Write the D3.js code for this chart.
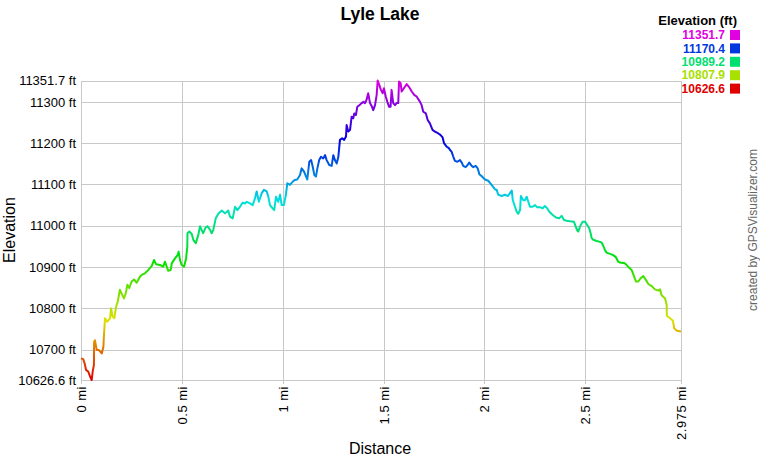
<!DOCTYPE html>
<html><head><meta charset="utf-8">
<script src="https://cdn.jsdelivr.net/npm/d3@7"></script>
<style>body{margin:0;background:#fff;}svg{display:block;font-family:"Liberation Sans",Arial,sans-serif;}</style>
</head><body><svg id="c" width="760" height="460"></svg>
<script>
const title = "Lyle Lake";
const distMi = [0,0.011,0.018,0.025,0.036,0.045,0.053,0.058,0.064,0.065,0.069,0.078,0.089,0.103,0.111,0.114,0.119,0.130,0.144,0.149,0.157,0.165,0.174,0.182,0.193,0.205,0.213,0.222,0.230,0.239,0.251,0.263,0.276,0.293,0.301,0.317,0.334,0.351,0.362,0.372,0.392,0.408,0.416,0.425,0.433,0.445,0.450,0.466,0.479,0.484,0.491,0.499,0.511,0.521,0.527,0.528,0.537,0.549,0.557,0.569,0.582,0.590,0.598,0.606,0.618,0.628,0.640,0.648,0.656,0.668,0.681,0.698,0.714,0.730,0.739,0.752,0.764,0.775,0.788,0.802,0.813,0.822,0.838,0.851,0.863,0.871,0.882,0.896,0.907,0.921,0.929,0.937,0.950,0.958,0.967,0.978,0.987,0.995,1.006,1.016,1.023,1.036,1.050,1.061,1.072,1.086,1.094,1.106,1.116,1.122,1.132,1.141,1.149,1.157,1.165,1.172,1.181,1.190,1.201,1.210,1.218,1.231,1.243,1.251,1.259,1.268,1.276,1.284,1.295,1.305,1.314,1.317,1.325,1.334,1.342,1.350,1.355,1.363,1.370,1.380,1.392,1.400,1.408,1.416,1.424,1.433,1.441,1.449,1.458,1.466,1.471,1.479,1.487,1.496,1.502,1.511,1.519,1.528,1.535,1.540,1.548,1.557,1.565,1.573,1.577,1.585,1.590,1.601,1.615,1.628,1.640,1.652,1.664,1.681,1.689,1.697,1.710,1.719,1.730,1.743,1.755,1.770,1.782,1.793,1.800,1.812,1.824,1.829,1.838,1.846,1.854,1.866,1.879,1.888,1.895,1.907,1.917,1.925,1.937,1.945,1.957,1.967,1.975,1.987,2.003,2.019,2.036,2.053,2.061,2.069,2.086,2.102,2.116,2.127,2.136,2.141,2.152,2.160,2.168,2.177,2.181,2.193,2.201,2.210,2.218,2.226,2.239,2.251,2.262,2.276,2.289,2.300,2.312,2.322,2.339,2.355,2.371,2.383,2.395,2.408,2.424,2.444,2.453,2.461,2.466,2.474,2.487,2.499,2.510,2.520,2.527,2.532,2.540,2.557,2.573,2.582,2.590,2.598,2.606,2.623,2.639,2.652,2.664,2.672,2.697,2.713,2.730,2.738,2.752,2.763,2.775,2.788,2.801,2.813,2.829,2.846,2.862,2.871,2.879,2.896,2.904,2.905,2.921,2.935,2.941,2.955,2.975];
const elevFt = [10679,10677,10667,10651,10647,10635,10626.6,10647,10663,10719,10723,10699,10699,10691,10707,10736,10776,10768,10776,10800,10780,10776,10804,10816,10845,10832,10824,10837,10857,10849,10865,10870,10862,10877,10881,10885,10893,10903,10917,10907,10905,10901,10913,10901,10891,10893,10909,10921,10929,10937,10917,10905,10901,10921,10949,10982,10986,10980,10966,10958,10978,10999,10990,10982,10996,10999,10990,10982,10990,11018,11029,11037,11030,11037,11022,11018,11046,11038,11046,11056,11054,11058,11054,11050,11067,11083,11058,11079,11087,11083,11070,11050,11042,11038,11070,11058,11075,11050,11050,11075,11103,11099,11107,11111,11112,11123,11139,11131,11119,11112,11155,11159,11143,11123,11119,11139,11159,11167,11163,11171,11159,11147,11145,11171,11159,11151,11167,11208,11212,11208,11216,11244,11228,11232,11264,11260,11272,11268,11288,11292,11297,11300,11297,11305,11321,11297,11290,11280,11292,11317,11351.7,11341,11329,11321,11333,11313,11300,11288,11288,11329,11297,11292,11297,11297,11349,11345,11325,11333,11343,11335,11325,11317,11313,11300,11292,11276,11272,11256,11248,11232,11228,11224,11220,11214,11200,11192,11188,11184,11179,11167,11157,11155,11159,11153,11145,11142,11147,11153,11145,11142,11145,11139,11125,11120,11112,11109,11099,11088,11087,11075,11072,11075,11072,11079,11085,11062,11046,11034,11029,11038,11072,11062,11062,11070,11058,11046,11046,11050,11045,11045,11042,11048,11042,11034,11026,11020,11018,11024,11014,11012,11011,11010,10998,10988,10986,10998,11010,11010,11002,10994,10982,10970,10966,10963,10961,10959,10951,10941,10935,10932,10929,10924,10913,10911,10909,10901,10893,10883,10865,10865,10873,10878,10869,10859,10854,10846,10843,10846,10832,10824,10808,10782,10776,10770,10752,10746,10744];
const yTicks = [10626.6,10700,10800,10900,11000,11100,11200,11300,11351.7];
const yTickLabels = ["10626.6 ft","10700 ft","10800 ft","10900 ft","11000 ft","11100 ft","11200 ft","11300 ft","11351.7 ft"];
const xTicks = [0,0.5,1,1.5,2,2.5,2.975];
const xTickLabels = ["0 mi","0.5 mi","1 mi","1.5 mi","2 mi","2.5 mi","2.975 mi"];
const legendValues = [11351.7,11170.4,10989.2,10807.9,10626.6];

const svg = d3.select("#c");
const L=81, R=681, T=80.5, B=380;
const x = d3.scaleLinear().domain([0,2.975]).range([L,R]);
const y = d3.scaleLinear().domain([10626.6,11351.7]).range([B,T]);
const colorOf = v => d3.hsl(300*(v-10626.6)/(11351.7-10626.6),1,0.44).formatHex();

// grid
const grid = svg.append("g").attr("stroke","#c8c8c8").attr("stroke-width",1).attr("shape-rendering","crispEdges");
grid.selectAll("line.h").data(yTicks).join("line").attr("x1",L).attr("x2",R).attr("y1",d=>Math.round(y(d))+0.5).attr("y2",d=>Math.round(y(d))+0.5);
grid.selectAll("line.v").data(xTicks).join("line").attr("y1",T).attr("y2",B+4).attr("x1",d=>Math.round(x(d))+0.5).attr("x2",d=>Math.round(x(d))+0.5);

// y axis labels
const yAxis = d3.axisLeft(y).tickValues(yTicks).tickFormat((d,i)=>yTickLabels[i]).tickSize(0).tickPadding(5);
const ya = svg.append("g").attr("transform",`translate(${L},0)`).call(yAxis);
ya.select(".domain").remove();
ya.selectAll("text").attr("font-size",13).attr("fill","#000").attr("font-family","Liberation Sans, Arial, sans-serif");

// x axis labels
const xAxis = d3.axisBottom(x).tickValues(xTicks).tickFormat((d,i)=>xTickLabels[i]).tickSize(0);
const xa = svg.append("g").attr("transform",`translate(0,${B})`).call(xAxis);
xa.select(".domain").remove();
xa.selectAll("text").attr("font-size",13).attr("fill","#000").attr("font-family","Liberation Sans, Arial, sans-serif")
  .attr("letter-spacing","0.5")
  .attr("text-anchor","end").attr("dy","0.35em").attr("x",0).attr("y",0)
  .attr("transform","translate(0,6) rotate(-90)");

// gradient
const defs = svg.append("defs");
const grad = defs.append("linearGradient").attr("id","eg").attr("gradientUnits","userSpaceOnUse")
  .attr("x1",0).attr("x2",0).attr("y1",y(10626.6)).attr("y2",y(11351.7));
d3.range(0,31).forEach(i=>{
  grad.append("stop").attr("offset",i/30).attr("stop-color",colorOf(10626.6+(11351.7-10626.6)*i/30));
});
const pts = distMi.map((d,i)=>[d,elevFt[i]]);
svg.append("path").datum(pts).attr("fill","none").attr("stroke","url(#eg)").attr("stroke-width",2)
  .attr("stroke-linejoin","round")
  .attr("d",d3.line().x(d=>x(d[0])).y(d=>y(d[1])));

// titles
svg.append("text").attr("x",380).attr("y",20).attr("text-anchor","middle").attr("font-size",17.5).attr("font-weight","bold").text(title);
svg.append("text").attr("x",380).attr("y",454).attr("text-anchor","middle").attr("font-size",16).text("Distance");
svg.append("text").attr("transform","translate(15,230) rotate(-90)").attr("text-anchor","middle").attr("font-size",16).text("Elevation");
svg.append("text").attr("transform","translate(757,230) rotate(-90)").attr("text-anchor","middle").attr("font-size",12).attr("fill","#666").text("created by GPSVisualizer.com");

// legend
svg.append("text").attr("x",737).attr("y",25).attr("text-anchor","end").attr("font-size",13).attr("font-weight","bold").text("Elevation (ft)");
const lg = svg.append("g").selectAll("g").data(legendValues).join("g").attr("transform",(d,i)=>`translate(0,${35+i*13.4})`);
lg.append("text").attr("x",725).attr("y",0).attr("dy","0.35em").attr("text-anchor","end").attr("font-size",12).attr("font-weight","bold").attr("fill",d=>colorOf(d)).text(d=>d.toFixed(1));
lg.append("rect").attr("x",730).attr("y",-5).attr("width",10).attr("height",10).attr("fill",d=>colorOf(d));
</script></body></html>
